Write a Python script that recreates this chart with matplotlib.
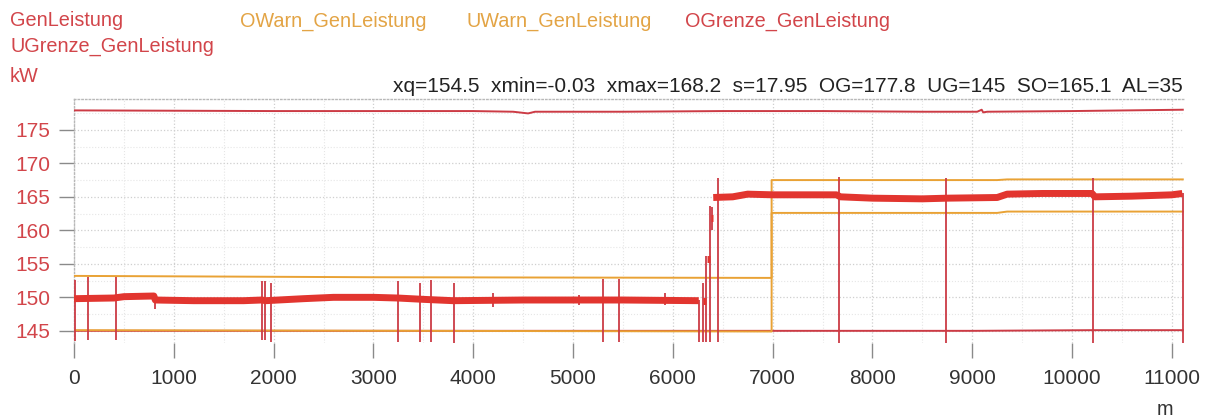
import numpy as np
import matplotlib
matplotlib.use("Agg")
import matplotlib.pyplot as plt
from matplotlib.ticker import MultipleLocator

plt.rcParams['font.family'] = ['Liberation Sans', 'DejaVu Sans']

# ---------------- data ----------------
# GenLeistung, main band before the load change
gen_a_x = [0, 400, 500, 800, 815, 1200, 1700, 1880, 1920, 2300, 2600, 3000, 3240, 3500, 3800, 4500, 5500, 6260]
gen_a_y = [149.8, 149.9, 150.1, 150.2, 149.6, 149.5, 149.5, 149.6, 149.5, 149.8, 150.0, 150.0, 149.9, 149.7, 149.5, 149.6, 149.6, 149.5]
# short blobs during the transition
gen_b_x = [6305, 6330]
gen_b_y = [149.5, 149.5]
gen_c_x = [6338, 6368]
gen_c_y = [155.7, 155.7]
gen_d_x = [6378, 6400]
gen_d_y = [161.8, 161.8]
# main band after the load change
gen_e_x = [6405, 6600, 6750, 7000, 7640, 7680, 8000, 8500, 8750, 9250, 9350, 9700, 10200, 10230, 10600, 11000, 11105]
gen_e_y = [164.9, 165.0, 165.4, 165.3, 165.3, 165.0, 164.8, 164.7, 164.8, 164.9, 165.4, 165.5, 165.5, 165.0, 165.1, 165.3, 165.5]

# spikes (position, lowest value, highest value)
spike_x = [10, 137, 418, 812, 1881, 1914, 1974, 3243, 3467, 3577, 3808, 4202, 5064, 5297, 5464, 5922,
           6265, 6305, 6333, 6373, 6390, 6450, 7669, 8734, 10213, 11109]
spike_lo = [143.5, 143.6, 143.6, 148.3, 143.6, 143.6, 143.4, 143.4, 143.4, 143.3, 143.2, 148.6, 148.8, 143.3, 143.3, 148.8,
            143.4, 143.4, 143.4, 143.3, 160.0, 143.3, 143.2, 143.2, 143.2, 143.2]
spike_hi = [152.6, 153.0, 153.1, 150.5, 152.4, 152.4, 152.1, 152.5, 152.1, 152.6, 152.2, 150.7, 150.4, 152.7, 152.7, 150.6,
            149.6, 152.1, 156.1, 163.6, 163.5, 167.8, 168.0, 167.8, 167.8, 165.6]

# limit lines
owarn_x = [0, 3000, 6990, 6990, 9250, 9350, 11110]
owarn_y = [153.2, 153.0, 152.9, 167.5, 167.5, 167.6, 167.6]
uwarn_x = [0, 6990, 6990, 9250, 9350, 11110]
uwarn_y = [145.1, 144.9, 162.6, 162.6, 162.8, 162.8]
ogrenze_x = [0, 1000, 2000, 3000, 4000, 4400, 4550, 4620, 5500, 6500, 7500, 8500, 9050, 9095, 9110, 9150, 10000, 11110]
ogrenze_y = [177.9, 177.85, 177.8, 177.8, 177.8, 177.7, 177.45, 177.7, 177.7, 177.8, 177.8, 177.7, 177.7, 178.0, 177.6, 177.7, 177.8, 178.0]
ugrenze_x = [0, 6990, 9000, 10200, 11110]
ugrenze_y = [145.0, 145.0, 145.0, 145.1, 145.1]

x_ticks = [0, 1000, 2000, 3000, 4000, 5000, 6000, 7000, 8000, 9000, 10000, 11000]
y_ticks = [145, 150, 155, 160, 165, 170, 175]

legend_items = [("GenLeistung", 10, 21, "red"), ("OWarn_GenLeistung", 240, 21, "orange"),
                ("UWarn_GenLeistung", 467, 21, "orange"), ("OGrenze_GenLeistung", 685, 21, "red"),
                ("UGrenze_GenLeistung", 10, 46, "red")]
stats_text = "xq=154.5  xmin=-0.03  xmax=168.2  s=17.95  OG=177.8  UG=145  SO=165.1  AL=35"

# ---------------- style ----------------
RED_DATA = "#e2352f"
RED_LIM = "#cc3b45"
ORANGE = "#e9a235"
RED_TXT = "#d2454a"
ORANGE_TXT = "#e3a445"

W, H = 1209, 419
fig = plt.figure(figsize=(W / 100, H / 100), dpi=100)
fig.patch.set_facecolor("white")
ax = fig.add_axes([74 / W, 1 - 342.9 / H, 1109.8 / W, 243.9 / H])

ax.set_xlim(0, 11120)
ax.set_ylim(143.2, 179.6)

# grid
ax.xaxis.set_minor_locator(MultipleLocator(500))
ax.yaxis.set_minor_locator(MultipleLocator(2.5))
ax.set_xticks(x_ticks)
ax.set_yticks(y_ticks)
ax.grid(True, which="major", color="#cfcfcf", linestyle=":", linewidth=0.9)
ax.grid(True, which="minor", color="#e6e6e6", linestyle=":", linewidth=0.8)
ax.set_axisbelow(True)

for s in ["right", "bottom"]:
    ax.spines[s].set_visible(False)
for s in ["top", "left"]:
    ax.spines[s].set_color("#b8b8b8")
    ax.spines[s].set_linestyle(":")
    ax.spines[s].set_linewidth(1.0)

ax.tick_params(axis="y", which="major", length=11, width=1, color="#8a8a8a",
               labelcolor=RED_TXT, labelsize=15, pad=6)
ax.tick_params(axis="x", which="major", length=11, width=1, color="#8a8a8a",
               labelcolor="#333333", labelsize=15, pad=8)
ax.tick_params(which="minor", length=0)

# limit lines
ax.plot(ugrenze_x, ugrenze_y, color=RED_LIM, lw=1.4, zorder=3)
ax.plot(ogrenze_x, ogrenze_y, color=RED_LIM, lw=1.4, zorder=3)
ax.plot(uwarn_x, uwarn_y, color=ORANGE, lw=1.4, zorder=3)
ax.plot(owarn_x, owarn_y, color=ORANGE, lw=1.4, zorder=3)

# spikes
ax.vlines(spike_x, spike_lo, spike_hi, color=RED_LIM, lw=1.3, zorder=4)

# GenLeistung band
for gx, gy in [(gen_a_x, gen_a_y), (gen_b_x, gen_b_y), (gen_c_x, gen_c_y),
               (gen_d_x, gen_d_y), (gen_e_x, gen_e_y)]:
    ax.plot(gx, gy, color=RED_DATA, lw=5.0, solid_capstyle="butt", zorder=5)

# texts
def ftext(px, py, s, color, **kw):
    fig.text(px / W, 1 - py / H, s, color=color, va="center", **kw)

for name, px, py, c in legend_items:
    ftext(px, py, name, RED_TXT if c == "red" else ORANGE_TXT, fontsize=14.3)
ftext(10, 76, "kW", RED_TXT, fontsize=14.3)
ftext(1183, 87, stats_text, "#222222", fontsize=15, ha="right")
ftext(1165, 409, "m", "#333333", fontsize=14.3, ha="center")

fig.savefig("out.png", dpi=100, facecolor="white")
